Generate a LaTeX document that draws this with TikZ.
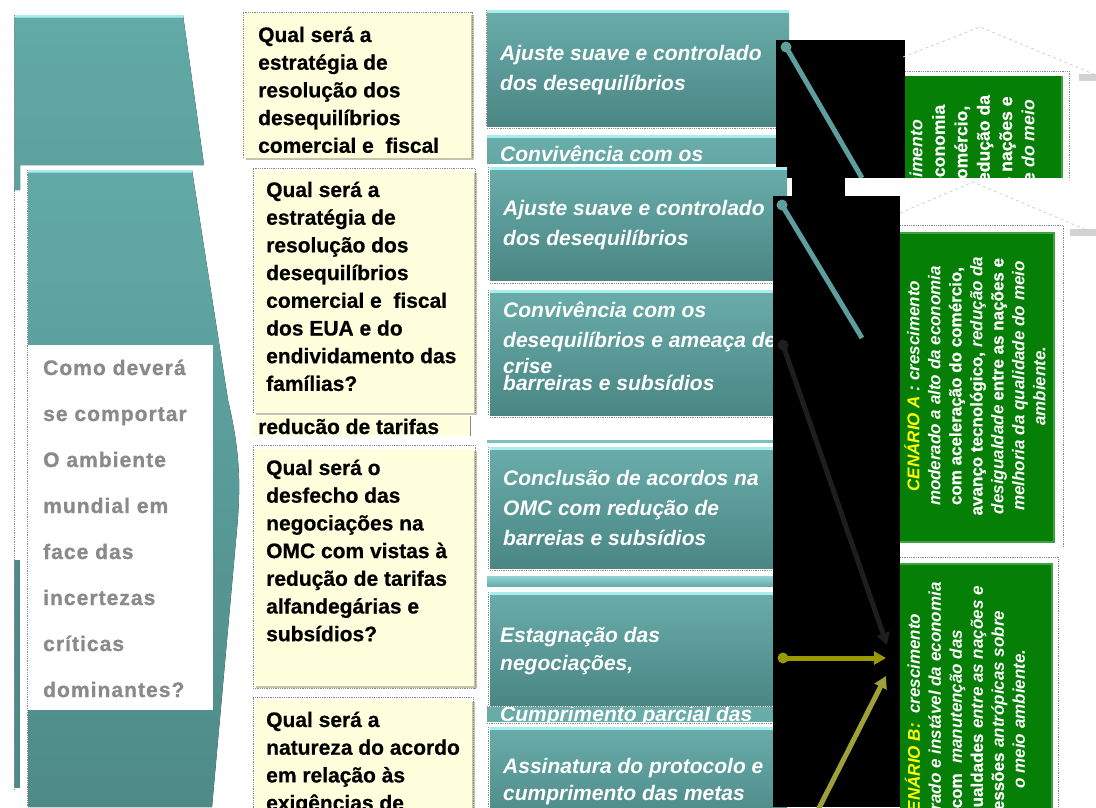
\documentclass[tikz,border=0pt]{standalone}
\usepackage{fontspec}
\setmainfont{Liberation Sans}[BoldFeatures={FakeBold=0.6}]
\newfontfamily\grayfont{Liberation Sans}[LetterSpace=5,BoldFeatures={FakeBold=1}]
\usetikzlibrary{arrows.meta}
\definecolor{tealA}{HTML}{69ADAB}
\definecolor{tealB}{HTML}{4A8684}
\definecolor{tealHi}{HTML}{A8EEEE}
\definecolor{chevA}{HTML}{62AAA7}
\definecolor{chevB}{HTML}{4E8B88}
\definecolor{cream}{HTML}{FFFFDD}
\definecolor{creamEdge}{HTML}{C4C4AC}
\definecolor{gBox}{HTML}{067F06}
\definecolor{gEdge}{HTML}{3FA33F}
\definecolor{txtGray}{HTML}{8A8A8A}
\definecolor{lineTeal}{HTML}{5E9E9E}
\definecolor{lineDark}{HTML}{1E1E1E}
\definecolor{oliveA}{HTML}{9A9A00}
\definecolor{oliveB}{HTML}{A0A03A}
\definecolor{dotGray}{HTML}{8A8A8A}
\definecolor{houseGray}{HTML}{D0D0D0}
\definecolor{cenYellow}{HTML}{FFFF00}
\tikzset{
  sel/.style={draw=dotGray, densely dotted, line width=0.8pt},
  tealbox/.style={top color=tealA, bottom color=tealB, draw=none},
  qline/.style={anchor=base west, inner sep=0pt, font=\fontsize{21}{21}\selectfont\bfseries, text=black},
  aline/.style={anchor=base west, inner sep=0pt, font=\fontsize{21}{21}\selectfont\bfseries\itshape, text=white},
  grline/.style={anchor=base west, inner sep=0pt, font=\fontsize{21}{21}\grayfont\bfseries, text=txtGray},
  gtext/.style={rotate=90, align=center, inner sep=0pt, font=\fontsize{17}{21}\selectfont\bfseries, text=white},
  gtexttop/.style={gtext, font=\fontsize{17.6}{22.4}\selectfont\bfseries},
  conn/.style={line width=5pt},
  tip/.style={-{Triangle[length=12pt,width=13pt]}},
}
\begin{document}
\begin{tikzpicture}[x=1pt,y=-1pt]
\useasboundingbox (0,0) rectangle (1096,807);
\clip (0,0) rectangle (1096,807);
\fill[white] (0,0) rectangle (1096,807);

% ================= top (partial) layer =================
\fill[top color=chevA, bottom color=chevA!70!chevB] (14,15) -- (183,15) -- (204,165) -- (20,165) -- (20,190) -- (14,190) -- cycle;
\fill[tealHi] (14,15) -- (183,15) -- (183.4,17.5) -- (14,17.5) -- cycle;
\draw[sel] (14,15) -- (14,790);

% yellow box (top)
\fill[creamEdge] (246,15) rectangle (474,160);
\fill[cream] (244,13) rectangle (471,158);
\begin{scope}
  \clip (243,12) rectangle (472,158);
  \foreach \t [count=\k from 0] in {Qual será a, estratégia de, resolução dos, desequilíbrios, comercial e~ fiscal}
    \node[qline] (qa-\k) at (258, 42+27.7*\k) {\t};
\end{scope}
\draw[sel] (243,158) -- (243,12) -- (472,12) -- (472,158);

% teal boxes (top)
\fill[tealbox] (487,10) rectangle (789,126);
\fill[tealHi] (487,10) rectangle (789,12.5);
\node[aline] (aa-0) at (500,60) {Ajuste suave e controlado};
\node[aline] (aa-1) at (500,90) {dos desequilíbrios};
\draw[sel] (487,128) -- (789,128);
\draw[sel] (486,10) -- (486,126);
\fill[top color=tealA, bottom color=tealA!85!tealB] (487,135) rectangle (776,163);
\fill[tealHi] (487,135) rectangle (776,137.5);
\begin{scope}
  \clip (487,135) rectangle (776,163);
  \node[aline] (aa-2) at (500,161) {Convivência com os};
\end{scope}

% black panel (top)
\fill[black] (776,40) rectangle (905,178);
\fill[black] (792,178) rectangle (845,196);
\coordinate (t1s) at (786,47);
\coordinate (t1e) at (862,178);
\draw[lineTeal, conn] (t1s) -- (t1e);
\fill[lineTeal] (t1s) circle (5.5pt);

% house outline and green box (top)
\draw[houseGray, dashed, line width=0.8pt] (903,57) -- (980,27) -- (1096,75);
\fill[gBox] (905,76) rectangle (1063,178);
\draw[gEdge, line width=1.2pt] (1062,76) -- (1062,178);
\begin{scope}
  \clip (905,76) rectangle (1063,178);
  \node[gtexttop] (cenA0) at (982,229) {\textit{\textcolor{cenYellow}{CENÁRIO A}} \textit{: crescimento}\\ moderado a alto da economia\\ com aceleração do comércio,\\ avanço tecnológico, redução da\\ desigualdade entre as nações e\\ melhoria da qualidade \textit{do meio}\\ \textit{ambiente.}};
\end{scope}
\draw[sel] (905,71) -- (1069,71) -- (1069,178);
\fill[gray!35] (1079,74) rectangle (1096,81);

% ================= main layer =================
\fill[white] (845,178) rectangle (1096,196);

% left chevron
\fill[top color=chevA, bottom color=chevB] (28,170) -- (192,170) -- (228,400) .. controls (241,455) and (241,490) .. (236,540) -- (212,807) -- (28,807) -- cycle;
\fill[tealHi] (28,170) -- (192,170) -- (192.4,172.5) -- (28,172.5) -- cycle;
\draw[sel] (27,170) -- (27,807);
\fill[chevB] (14,560) rectangle (20,788);
\draw[sel] (14,560) -- (14,790);

% white text panel
\fill[white] (28,345) rectangle (213,710);
\foreach \t [count=\k from 0] in {Como deverá, se comportar, O ambiente, mundial em, face das, incertezas, críticas, dominantes?}
  \node[grline] (w-\k) at (43, 375+46*\k) {\t};

% yellow box 2
\fill[creamEdge] (256,173) rectangle (477,415);
\fill[cream] (254,171) rectangle (474,413);
\draw[sel] (253,413) -- (253,168) -- (475,168) -- (475,413);
\foreach \t [count=\k from 0] in {Qual será a, estratégia de, resolução dos, desequilíbrios, comercial e~ fiscal, dos EUA e do, endividamento das, famílias?}
  \node[qline] (qb-\k) at (266, 197+27.7*\k) {\t};

% yellow strip
\fill[cream] (253,416) rectangle (470,436);
\begin{scope}
  \clip (253,416) rectangle (470,436);
  \node[qline] (qs) at (258,434) {reducão de tarifas};
\end{scope}
\draw[dotGray, line width=1pt] (470,416) -- (470,436);

% yellow box 3
\fill[creamEdge] (256,451) rectangle (477,688);
\fill[cream] (254,449) rectangle (474,686);
\draw[sel] (253,445) rectangle (475,688);
\foreach \t [count=\k from 0] in {Qual será o, desfecho das, negociações na, OMC com vistas à, redução de tarifas, alfandegárias e, subsídios?}
  \node[qline] (qc-\k) at (266, 475+27.7*\k) {\t};

% yellow box 4
\fill[creamEdge] (256,702) rectangle (475,810);
\fill[cream] (254,700) rectangle (472,810);
\draw[sel] (253,810) -- (253,697) -- (473,697) -- (473,810);
\foreach \t [count=\k from 0] in {Qual será a, natureza do acordo, em relação às, exigências de}
  \node[qline] (qd-\k) at (266, 727+27.7*\k) {\t};

% teal boxes (main)
\fill[tealbox] (490,167) rectangle (787,280);
\fill[tealHi] (490,167) rectangle (787,169.5);
\node[aline] (ab-0) at (503,215) {Ajuste suave e controlado};
\node[aline] (ab-1) at (503,245) {dos desequilíbrios};
\draw[sel] (490,283) -- (787,283);
\draw[sel] (488,167) -- (488,280);

\fill[tealbox] (490,290) rectangle (787,415);
\fill[tealHi] (490,290) rectangle (787,292.5);
\node[aline] (ac-0) at (503,317) {Convivência com os};
\node[aline] (ac-1) at (503,347) {desequilíbrios e ameaça de};
\node[aline] (ac-2) at (503,373) {crise};
\node[aline] (ac-3) at (503,390) {barreiras e subsídios};
\draw[sel] (490,417) -- (787,417);
\draw[sel] (488,290) -- (488,415);

\fill[tealA!70!tealHi] (487,440) rectangle (787,443);
\fill[tealbox] (490,447) rectangle (787,568);
\fill[tealHi] (490,447) rectangle (787,449.5);
\node[aline] (ad-0) at (503,485) {Conclusão de acordos na};
\node[aline] (ad-1) at (503,515) {OMC com redução de};
\node[aline] (ad-2) at (503,545) {barreias e subsídios};
\draw[sel] (490,570) -- (787,570);
\draw[sel] (488,447) -- (488,568);

\fill[top color=tealHi!60!tealA, bottom color=tealA] (487,576) rectangle (787,586);
\fill[tealbox] (490,592) rectangle (787,705);
\fill[tealHi] (490,592) rectangle (787,594.5);
\node[aline] (ae-0) at (500,642) {Estagnação das};
\node[aline] (ae-1) at (500,670) {negociações,};
\draw[sel] (488,592) -- (488,705);

\fill[tealA] (487,707) rectangle (787,722);
\begin{scope}
  \clip (487,707) rectangle (787,722);
  \node[aline] (af) at (500,721) {Cumprimento parcial das};
\end{scope}
\draw[sel] (487,706) -- (787,706);
\draw[sel] (487,723) -- (787,723);

\fill[tealbox] (490,727) rectangle (787,830);
\fill[tealHi] (490,727) rectangle (787,729.5);
\node[aline] (ag-0) at (503,773) {Assinatura do protocolo e};
\node[aline] (ag-1) at (503,800) {cumprimento das metas};
\draw[sel] (488,727) -- (488,807);

% black panel (main)
\fill[black] (773,196) rectangle (900,807);

% connectors
\coordinate (t2s) at (782,205);
\coordinate (t2e) at (862,338);
\draw[lineTeal, conn] (t2s) -- (t2e);
\fill[lineTeal] (t2s) circle (5.5pt);

\coordinate (ds) at (783,345);
\coordinate (de) at (887,645);
\draw[lineDark, conn, tip] (ds) -- (de);
\fill[lineDark] (ds) circle (5.5pt);

\coordinate (os) at (783,658);
\coordinate (oe) at (886,658);
\draw[oliveA, conn, tip] (os) -- (oe);
\fill[oliveA] (os) circle (5.5pt);

\coordinate (ps) at (816,814);
\coordinate (pe) at (886,676);
\draw[oliveB, conn, tip] (ps) -- (pe);

% house outline (main)
\draw[houseGray, dashed, line width=0.8pt] (900,213) -- (973,182) -- (1096,234);
\fill[gray!35] (1070,229) rectangle (1096,236);

% scenario A
\fill[gBox] (900,232) rectangle (1055,543);
\draw[gEdge, line width=1.2pt] (900,233) -- (1054,233) -- (1054,542) -- (900,542);
\draw[sel] (900,225) -- (1063,225) -- (1063,548);
\node[gtext] (cenA) at (975,386) {\textit{\textcolor{cenYellow}{CENÁRIO A}} \textit{: crescimento}\\ \textit{moderado a alto da economia}\\ com aceleração do comércio,\\ avanço tecnológico, \textit{redução da}\\ \textit{desigualdade} entre as nações e\\ \textit{melhoria da qualidade do meio}\\ \textit{ambiente.}};

% scenario B
\fill[gBox] (900,563) rectangle (1053,820);
\draw[gEdge, line width=1.2pt] (900,564) -- (1052,564) -- (1052,820);
\draw[sel] (900,557) -- (1058,557) -- (1058,807);
\node[gtext] (cenB) at (965,719) {\textit{\textcolor{cenYellow}{CENÁRIO B:}}~ \textit{crescimento}\\ \textit{moderado e instável da economia}\\ com~ \textit{manutenção das}\\ desigualdades \textit{entre as nações e}\\ pressões \textit{antrópicas sobre}\\ \textit{o meio ambiente.}};
\end{tikzpicture}
\end{document}
